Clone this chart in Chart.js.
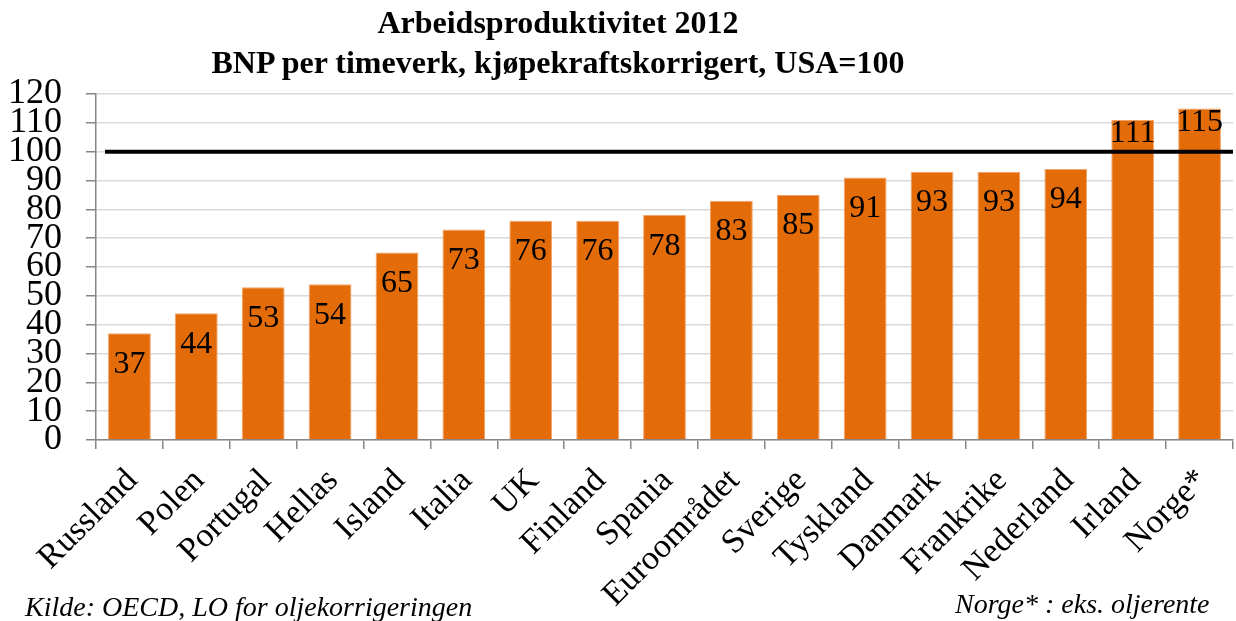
<!DOCTYPE html>
<html>
<head>
<meta charset="utf-8">
<script src="https://cdn.jsdelivr.net/npm/chart.js@4.4.0/dist/chart.umd.min.js"></script>
<style>
    html, body { margin: 0; padding: 0; background: #fff; }
    #wrap { position: relative; width: 1236px; height: 621px; overflow: hidden; font-family: "Liberation Serif", "Times New Roman", serif; }
    #title { position: absolute; left: 0; width: 1116px; top: 2px; text-align: center; font-weight: bold; font-size: 32px; line-height: 40px; color: #000; }
    .note { position: absolute; font-style: italic; font-size: 28px; line-height: 32px; color: #000; white-space: nowrap; }
    #source { left: 25px; top: 591px; }
    #norge { left: 955px; top: 588px; }
    canvas { position: absolute; left: 0; top: 0; }
</style>
</head>
<body>
<div id="wrap">
    <canvas id="chart" width="1236" height="621"></canvas>
    <div id="title">Arbeidsproduktivitet 2012<br>BNP per timeverk, kjøpekraftskorrigert, USA=100</div>
    <div class="note" id="source">Kilde: OECD, LO for oljekorrigeringen</div>
    <div class="note" id="norge">Norge* : eks. oljerente</div>
</div>
<script>
// data
const countries = ['Russland', 'Polen', 'Portugal', 'Hellas', 'Island', 'Italia', 'UK', 'Finland', 'Spania',
    'Euroområdet', 'Sverige', 'Tyskland', 'Danmark', 'Frankrike', 'Nederland', 'Irland', 'Norge*'];
const productivity = [37, 44, 53, 54, 65, 73, 76, 76, 78, 83, 85, 91, 93, 93, 94, 111, 115];
const usaLevel = 100;
const yTicks = [0, 10, 20, 30, 40, 50, 60, 70, 80, 90, 100, 110, 120];

const SERIF = '"Liberation Serif", "Times New Roman", serif';

// black reference line at USA=100, then value labels on top
const overlayPlugin = {
    id: 'overlay',
    afterDatasetsDraw(chart) {
        const { ctx, chartArea, scales } = chart;
        const y = scales.y.getPixelForValue(usaLevel);
        ctx.save();
        ctx.strokeStyle = '#000';
        ctx.lineWidth = 4;
        ctx.beginPath();
        ctx.moveTo(chartArea.left + 9, y);
        ctx.lineTo(chartArea.right, y);
        ctx.stroke();

        ctx.fillStyle = '#000';
        ctx.font = '32px ' + SERIF;
        ctx.textAlign = 'center';
        ctx.textBaseline = 'middle';
        chart.getDatasetMeta(0).data.forEach((bar, i) => {
            const v = productivity[i];
            const off = v > usaLevel ? 14 : 31;
            ctx.fillText(String(v), bar.x, bar.y + off);
        });
        ctx.restore();
    }
};

new Chart(document.getElementById('chart').getContext('2d'), {
    type: 'bar',
    data: {
        labels: countries,
        datasets: [{
            data: productivity,
            backgroundColor: '#E36C09',
            borderColor: '#F2A36A',
            borderWidth: 1,
            barPercentage: 0.64,
            categoryPercentage: 1.0,
        }]
    },
    options: {
        responsive: false,
        animation: false,
        layout: { padding: { left: 10, right: 3, top: 94, bottom: 0 } },
        plugins: { legend: { display: false }, tooltip: { enabled: false }, title: { display: false } },
        scales: {
            x: {
                offset: true,
                grid: { display: true, drawOnChartArea: false, offset: true, tickLength: 9, color: '#868686', lineWidth: 1.5 },
                border: { color: '#868686', width: 1.5 },
                ticks: {
                    color: '#000', font: { family: SERIF, size: 34 },
                    minRotation: 45, maxRotation: 45, autoSkip: false, padding: 12, labelOffset: 3,
                },
                // fixed band under the bars; rotated labels may run to the page edge like the original
                afterFit: s => { s.paddingLeft = 0; s.paddingRight = 0; s.height = 181; }
            },
            y: {
                min: 0, max: 120,
                afterBuildTicks: axis => { axis.ticks = yTicks.map(v => ({ value: v })); },
                grid: { color: '#d9d9d9', lineWidth: 1.5, tickLength: 10, tickColor: '#868686' },
                border: { color: '#868686', width: 1.5 },
                ticks: {
                    color: '#000', font: { family: SERIF, size: 36, lineHeight: 0.8 },
                    autoSkip: false, padding: 24,
                },
                afterFit: s => { s.width = 86; }
            }
        }
    },
    plugins: [overlayPlugin]
});
</script>
</body>
</html>
